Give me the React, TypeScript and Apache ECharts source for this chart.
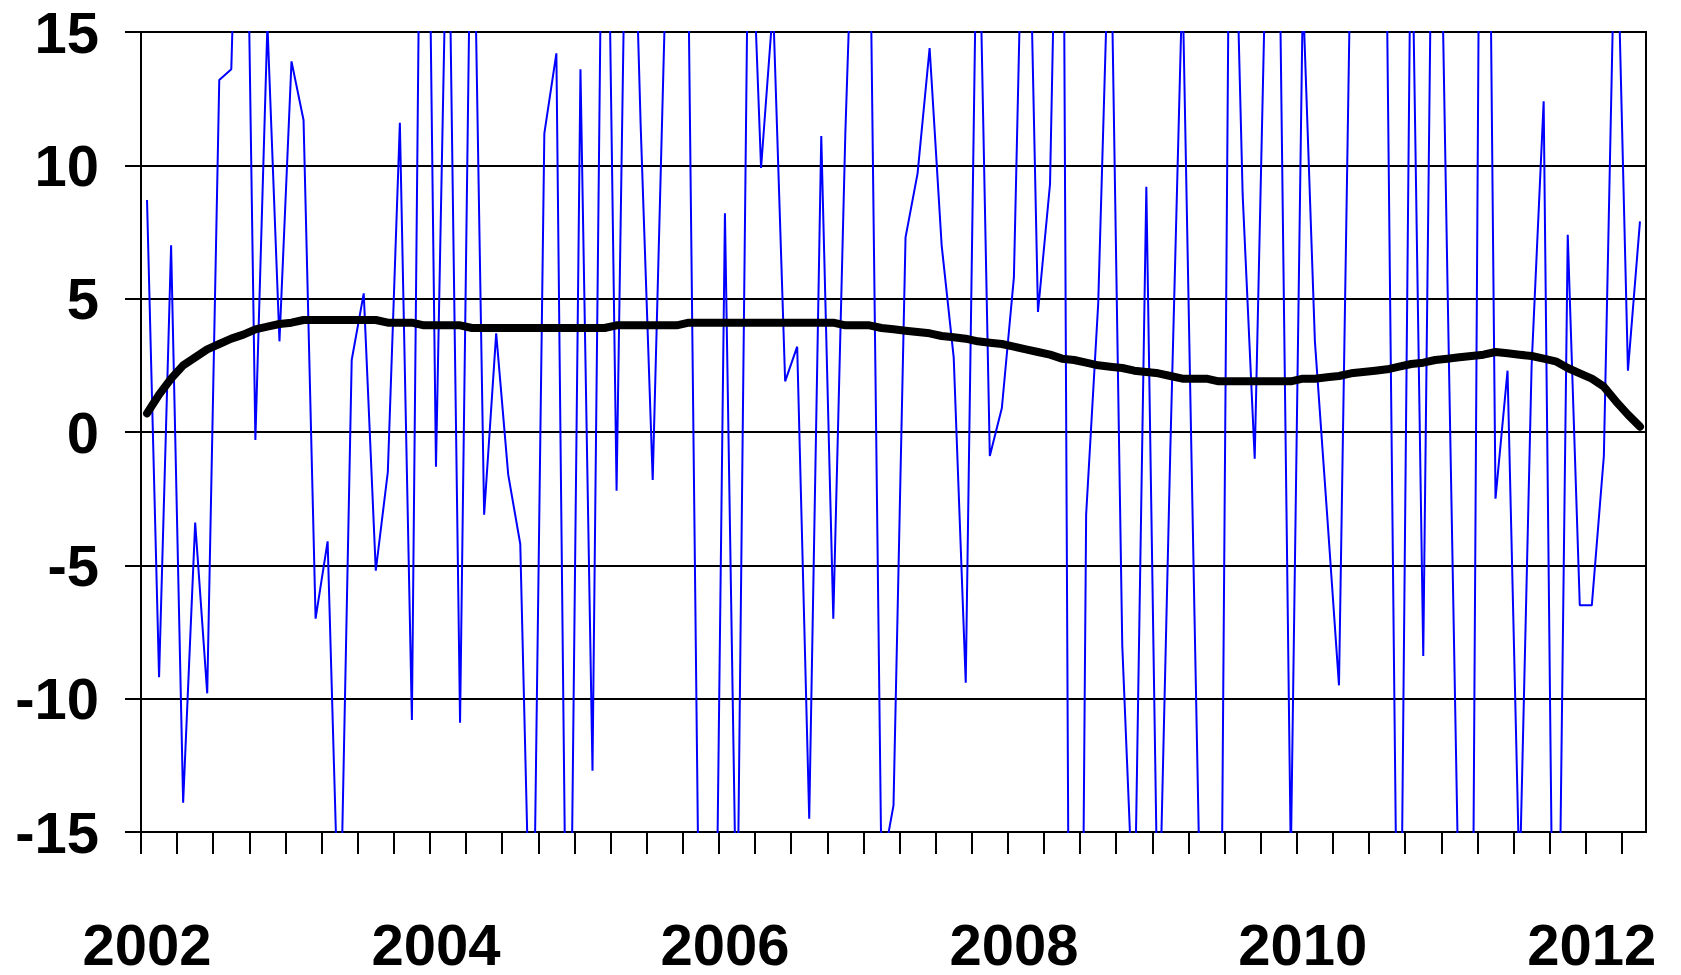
import React, { useEffect, useRef } from "react";
import * as echarts from "echarts";

const START_YEAR = 2002;

// Monthly values, Jan 2002 .. May 2012 (values beyond ±15 are clipped by the plot)
const BLUE_VALUES = [
  8.7, -9.2, 7.0, -13.9, -3.4, -9.8, 13.2, 13.6, 30, -0.3, 15.3, 3.4,
  13.9, 11.7, -7.0, -4.1, -20, 2.7, 5.2, -5.2, -1.5, 11.6, -10.8, 36,
  -1.3, 22, -10.9, 24, -3.1, 3.7, -1.6, -4.2, -23, 11.2, 14.2, -28,
  13.6, -12.7, 30, -2.2, 27.5, 11.5, -1.8, 15.5, 22, 15.5, -25, -30,
  8.2, -20, 22, 9.9, 16, 1.9, 3.2, -14.5, 11.1, -7.0, 11.2, 25,
  21, -16.5, -14.0, 7.3, 9.7, 14.4, 7.0, 2.8, -9.4, 22, -0.9, 0.9,
  5.8, 26, 4.5, 9.3, 32, -60, -3.1, 4.8, 20.5, -8.0, -19, 9.2,
  -20, -0.5, 17, -6.9, -30, -33, 27, 8.9, -1.0, 19.5, 20.3, -16,
  16.5, 3.4, -3.0, -9.5, 19, 25, 20, 15.5, -27, 21, -8.4, 32,
  5.9, -19, -28, 45, -2.5, 2.3, -17, 2.5, 12.4, -30, 7.4, -6.5,
  -6.5, -0.9, 21, 2.3, 7.9,
];

const TREND_VALUES = [
  0.7, 1.4, 2.0, 2.5, 2.8, 3.1, 3.3, 3.5, 3.65, 3.85, 3.95, 4.05,
  4.1, 4.2, 4.2, 4.2, 4.2, 4.2, 4.2, 4.2, 4.1, 4.1, 4.1, 4.0,
  4.0, 4.0, 4.0, 3.9, 3.9, 3.9, 3.9, 3.9, 3.9, 3.9, 3.9, 3.9,
  3.9, 3.9, 3.9, 4.0, 4.0, 4.0, 4.0, 4.0, 4.0, 4.1, 4.1, 4.1,
  4.1, 4.1, 4.1, 4.1, 4.1, 4.1, 4.1, 4.1, 4.1, 4.1, 4.0, 4.0,
  4.0, 3.9, 3.85, 3.8, 3.75, 3.7, 3.6, 3.55, 3.5, 3.4, 3.35, 3.3,
  3.2, 3.1, 3.0, 2.9, 2.75, 2.7, 2.6, 2.5, 2.45, 2.4, 2.3, 2.25,
  2.2, 2.1, 2.0, 2.0, 2.0, 1.9, 1.9, 1.9, 1.9, 1.9, 1.9, 1.9,
  2.0, 2.0, 2.05, 2.1, 2.2, 2.25, 2.3, 2.35, 2.45, 2.55, 2.6, 2.7,
  2.75, 2.8, 2.85, 2.9, 3.0, 2.95, 2.9, 2.85, 2.75, 2.65, 2.4, 2.2,
  2.0, 1.7, 1.15, 0.65, 0.2,
];

const YEAR_LABELS = ["2002", "2004", "2006", "2008", "2010", "2012"];

export default function App() {
  const ref = useRef<HTMLDivElement>(null);

  useEffect(() => {
    if (!ref.current) return;
    const chart = echarts.init(ref.current, null, { renderer: "svg" });
    const months = BLUE_VALUES.length;
    const blue = BLUE_VALUES.map((v, i) => [i + 0.5, v]);
    const trend = TREND_VALUES.map((v, i) => [i + 0.5, v]);
    const yearPos = YEAR_LABELS.map((y) => (Number(y) - START_YEAR) * 12 + 0.5);
    const quarterTicks: number[] = [];
    for (let m = 0; m < months; m += 3) quarterTicks.push(m);

    const font = "'Liberation Sans', Arial, sans-serif";

    chart.setOption({
      animation: false,
      backgroundColor: "#ffffff",
      grid: {
        left: 141,
        right: 35,
        top: 32,
        bottom: 143,
        show: true,
        borderColor: "#000",
        borderWidth: 2,
        backgroundColor: "transparent",
      },
      xAxis: {
        type: "value",
        min: 0,
        max: months,
        axisLine: { show: true, onZero: false, lineStyle: { color: "#000", width: 2 } },
        axisTick: {
          show: true,
          inside: false,
          length: 22,
          customValues: quarterTicks,
          lineStyle: { color: "#000", width: 2 },
        },
        axisLabel: {
          show: true,
          customValues: yearPos,
          formatter: (v: number) => {
            const idx = yearPos.findIndex((p) => Math.abs(p - v) < 1e-6);
            return idx >= 0 ? YEAR_LABELS[idx] : "";
          },
          fontSize: 58,
          lineHeight: 44,
          fontWeight: "bold",
          fontFamily: font,
          color: "#000",
          margin: 112,
          verticalAlign: "middle",
        },
        splitLine: { show: false },
      },
      yAxis: {
        type: "value",
        min: -15,
        max: 15,
        interval: 5,
        axisLine: { show: true, lineStyle: { color: "#000", width: 2 } },
        axisTick: {
          show: true,
          inside: false,
          length: 16,
          lineStyle: { color: "#000", width: 2 },
        },
        axisLabel: {
          fontSize: 58,
          fontWeight: "bold",
          fontFamily: font,
          color: "#000",
          margin: 42,
        },
        splitLine: { show: true, lineStyle: { color: "#000", width: 2 } },
      },
      series: [
        {
          type: "line",
          data: blue,
          symbol: "none",
          clip: true,
          z: 2,
          lineStyle: { color: "#0000ff", width: 2 },
        },
        {
          type: "line",
          data: trend,
          symbol: "none",
          clip: true,
          z: 3,
          lineStyle: { color: "#000", width: 8, cap: "round", join: "round" },
        },
      ],
    });

    return () => chart.dispose();
  }, []);

  return (
    <div
      ref={ref}
      style={{ position: "absolute", left: 0, top: 0, width: 1681, height: 975, background: "#fff" }}
    />
  );
}
